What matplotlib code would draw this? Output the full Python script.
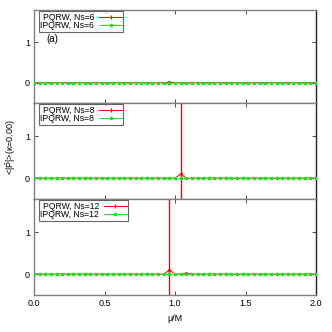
import numpy as np
import matplotlib
matplotlib.use("Agg")
import matplotlib.pyplot as plt
from matplotlib.lines import Line2D

mu = np.round(np.arange(0, 2.0001, 0.04), 2)  # sampling grid mu/M

Z = [0.0] * 51
pqrw_ns6 = list(Z); pqrw_ns6[24] = 0.02
pqrw_ns8 = list(Z); pqrw_ns8[26] = 0.10
pqrw_ns12 = list(Z); pqrw_ns12[24] = 0.10; pqrw_ns12[27] = 0.02
err_ns6 = list(Z)
err_ns8 = list(Z); err_ns8[26] = 5.0
err_ns12 = list(Z); err_ns12[24] = 5.0
ipqrw_ns6 = list(Z)
ipqrw_ns8 = list(Z)
ipqrw_ns12 = list(Z)

ns_labels = ["6", "8", "12"]
pqrw_sets = [pqrw_ns6, pqrw_ns8, pqrw_ns12]
err_sets = [err_ns6, err_ns8, err_ns12]
ipqrw_sets = [ipqrw_ns6, ipqrw_ns8, ipqrw_ns12]

RED = "#ff0000"
GREEN = "#20e020"
plt.rcParams['font.family'] = ['Liberation Sans', 'DejaVu Sans']
plt.rcParams['mathtext.fontset'] = 'custom'
plt.rcParams['mathtext.rm'] = 'Liberation Sans'
plt.rcParams['mathtext.it'] = 'Liberation Sans:italic'
fig = plt.figure(figsize=(3.32, 3.32), dpi=100)

left, width = 34/332, 282/332
bounds = [(10, 103), (103, 199), (199, 295)]
axes = []
for i, (t, b) in enumerate(bounds):
    ax = fig.add_axes([left, 1 - b/332, width, (b - t)/332])
    axes.append(ax)
    y = np.array(pqrw_sets[i])
    e = np.array(err_sets[i])
    ax.plot(mu, y, color=RED, lw=0.7, marker='s', ms=1.0, zorder=2)
    ax.vlines(mu, y - e, y + e, colors=RED, lw=1.0, zorder=2)
    ax.plot(mu, ipqrw_sets[i], color=GREEN, lw=0.9, ls=(0, (2, 1.5)),
            marker='s', ms=2.0, mec=GREEN, mfc=GREEN, zorder=3)
    ax.set_xlim(0, 2)
    ax.set_ylim(-0.5, 1.8)
    ax.set_yticks([0, 1])
    ax.set_xticks([0, 0.5, 1.0, 1.5, 2.0])
    ax.tick_params(direction='in', length=3, width=0.6, top=True, right=True,
                   labelsize=6.5, pad=3, color='#303030')
    for s in ['top', 'left', 'bottom']:
        ax.spines[s].set_color('#808080')
        ax.spines[s].set_linewidth(1.0)
    ax.spines['right'].set_color('#202020')
    ax.spines['right'].set_linewidth(1.0)
    if i < 2:
        ax.set_xticklabels([])
    else:
        ax.set_xticklabels(["0.0", "0.5", "1.0", "1.5", "2.0"])
    handles = [Line2D([], [], color=RED, lw=0.7, marker='|', ms=3),
               Line2D([], [], color=GREEN, lw=0.7, marker='s', ms=1.5)]
    leg = ax.legend(handles, [f"PQRW, Ns={ns_labels[i]}", f"IPQRW, Ns={ns_labels[i]}"],
                    loc='upper left', bbox_to_anchor=(0.018, 0.985), fontsize=6.2,
                    markerfirst=False, frameon=True, fancybox=False,
                    handlelength=2.6, handletextpad=0.6, borderpad=0.15,
                    labelspacing=-0.05, borderaxespad=0)
    leg.get_frame().set_edgecolor('#404040')
    leg.get_frame().set_linewidth(0.8)

axes[0].text(0.13, 1.08, "(a)", fontsize=7, ha='center', va='center')
axes[2].set_xlabel("μ/M", fontsize=6.5, labelpad=4)
fig.text(11/332, 1 - 147/332, r"<|$\bar{\mathrm{P}}$|>(κ=0.00)", rotation=90,
         fontsize=6.5, ha='center', va='center')

fig.savefig("out.png", dpi=100)
